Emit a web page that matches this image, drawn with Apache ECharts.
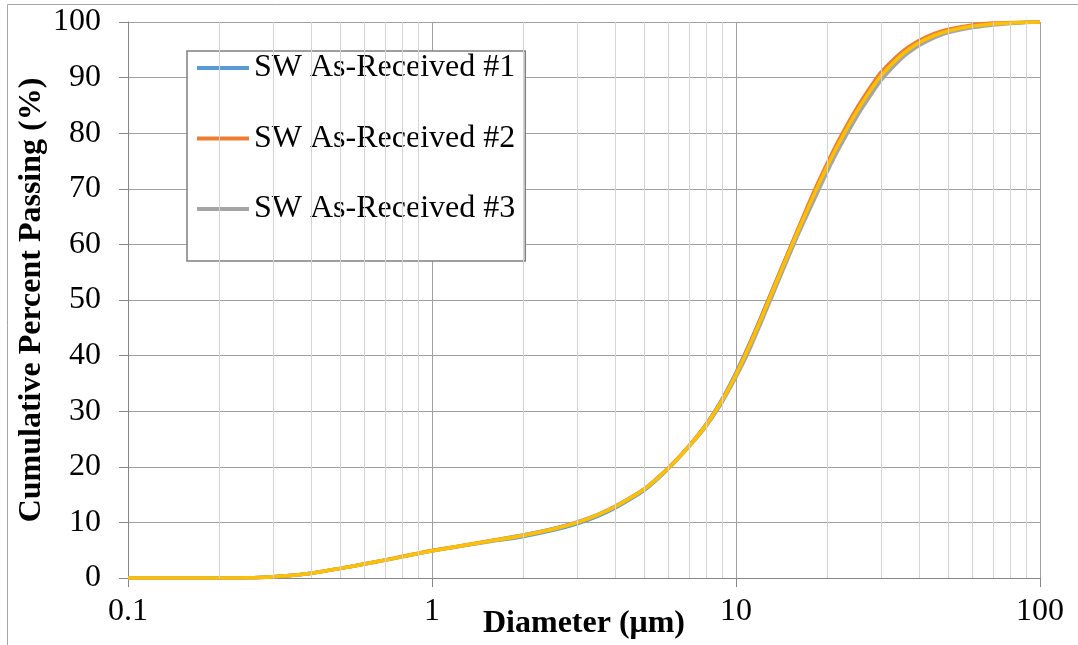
<!DOCTYPE html>
<html lang="en">
<head>
    <meta charset="UTF-8">
    <title>Particle Size Distribution</title>
    <script src="https://cdn.jsdelivr.net/npm/echarts@6/dist/echarts.min.js"></script>
    <style>
        html, body { margin: 0; padding: 0; background: #fff; }
        #chart { width: 1078px; height: 645px; }
    </style>
</head>
<body>
<div id="chart"></div>
<script>
    // particle diameter (um)
    var diam = [0.1, 0.15, 0.2, 0.25, 0.3, 0.35, 0.4, 0.5, 0.6, 0.7, 0.8, 0.9, 1, 1.2, 1.5, 2, 2.5, 3, 3.5, 4,
        5, 6, 7, 8, 9, 10, 11, 12, 13, 14, 15, 16, 18, 20, 22, 25, 28, 30, 35, 40, 45, 50, 60, 70, 80, 90, 100];

    // cumulative percent passing, per sample
    var run1 = [0, 0, 0, 0.04, 0.24, 0.51, 0.86, 1.73, 2.52, 3.22, 3.85, 4.41, 4.89, 5.58, 6.42, 7.48, 8.57, 9.75, 11.08, 12.6,
        15.82, 19.7, 23.7, 27.75, 32.15, 36.95, 41.8, 46.55, 51.1, 55.3, 59.15, 62.7, 68.95, 74.25, 78.7, 84.0, 88.1, 90.35, 94.0, 96.2,
        97.55, 98.4, 99.27, 99.64, 99.84, 99.94, 100];
    var run2 = [0, 0, 0, 0.04, 0.24, 0.51, 0.86, 1.73, 2.55, 3.26, 3.9, 4.46, 4.95, 5.68, 6.57, 7.72, 8.85, 10.03, 11.37, 12.88,
        16.08, 19.88, 23.78, 27.73, 32.03, 36.72, 41.7, 46.46, 51.02, 55.24, 59.14, 62.82, 69.37, 74.73, 79.2, 84.58, 88.71, 90.96, 94.55, 96.65,
        97.95, 98.7, 99.47, 99.8, 99.9, 99.96, 100];
    var run3 = [0, 0, 0, 0.04, 0.24, 0.51, 0.86, 1.73, 2.5, 3.18, 3.8, 4.37, 4.84, 5.6, 6.5, 7.75, 8.88, 10.06, 11.38, 12.87,
        16.06, 19.8, 23.6, 27.4, 31.6, 36.15, 40.7, 45.5, 50.05, 54.25, 58.15, 61.75, 67.8, 73.15, 77.6, 83.0, 87.15, 89.5, 93.4, 95.75,
        97.2, 98.1, 99.0, 99.45, 99.75, 99.9, 100];
    // average curve (drawn on top, not in legend)
    var runAvg = [0, 0, 0, 0.04, 0.24, 0.51, 0.86, 1.73, 2.52, 3.22, 3.85, 4.41, 4.89, 5.62, 6.5, 7.65, 8.77, 9.95, 11.29, 12.8,
        16.0, 19.8, 23.69, 27.63, 31.93, 36.6, 41.4, 46.16, 50.72, 54.94, 58.84, 62.42, 68.77, 74.13, 78.6, 83.98, 88.11, 90.36, 94.05, 96.25,
        97.58, 98.4, 99.27, 99.64, 99.84, 99.94, 100];

    var names = ['SW As-Received #1', 'SW As-Received #2', 'SW As-Received #3', 'Average'];
    var colors = ['#5B9BD5', '#ED7D31', '#A5A5A5', '#FFC000'];

    // minor log gridlines 2..9 per decade
    var minorGrid = [0.2, 0.3, 0.4, 0.5, 0.6, 0.7, 0.8, 0.9, 2, 3, 4, 5, 6, 7, 8, 9, 20, 30, 40, 50, 60, 70, 80, 90];

    function pairs(xs, ys) {
        var out = [];
        for (var i = 0; i < xs.length; i++) out.push([xs[i], ys[i]]);
        return out;
    }

    var font = 'Liberation Serif';
    var fsize = 32;
    var runs = [run1, run2, run3, runAvg];

    var series = [{
        // holder for the minor vertical gridlines
        name: 'grid',
        type: 'line',
        z: 1,
        silent: true,
        data: [[0.1, 0]],
        symbol: 'none',
        lineStyle: { opacity: 0 },
        markLine: {
            silent: true,
            symbol: 'none',
            label: { show: false },
            animation: false,
            lineStyle: { color: '#d4d4d4', width: 1, type: 'solid' },
            data: minorGrid.map(function (v) { return { xAxis: v }; })
        }
    }];
    for (var i = 0; i < runs.length; i++) {
        series.push({
            name: names[i],
            type: 'line',
            z: 3,
            data: pairs(diam, runs[i]),
            smooth: 0.3,
            showSymbol: false,
            symbol: 'none',
            color: colors[i],
            lineStyle: { color: colors[i], width: 3.5 }
        });
    }

    var option = {
        backgroundColor: '#fff',
        animation: false,
        graphic: [{
            type: 'rect',
            shape: { x: 7.5, y: 4.5, width: 1200, height: 800 },
            style: { fill: 'none', stroke: '#a6a6a6', lineWidth: 1 },
            silent: true
        }],
        grid: { left: 128, right: 38, top: 22, bottom: 67, outerBoundsMode: 'none' },
        legend: {
            data: names.slice(0, 3),
            orient: 'vertical',
            left: 187,
            top: 51,
            padding: [1, 10, 36, 10],
            itemGap: 38.5,
            itemWidth: 52,
            itemHeight: 4,
            icon: 'rect',
            backgroundColor: '#fff',
            borderColor: '#7f7f7f',
            borderWidth: 1.5,
            textStyle: { fontFamily: font, fontSize: fsize, color: '#000' }
        },
        xAxis: {
            type: 'log',
            logBase: 10,
            min: 0.1,
            max: 100,
            name: 'Diameter (\u03bcm)',
            nameLocation: 'middle',
            nameGap: 30,
            nameMoveOverlap: false,
            nameTextStyle: { fontFamily: font, fontSize: fsize, fontWeight: 'bold', color: '#000' },
            axisLine: { show: true, lineStyle: { color: '#868686', width: 1 } },
            axisTick: { show: true, length: 9, inside: false, lineStyle: { color: '#868686' } },
            axisLabel: { fontFamily: font, fontSize: fsize, color: '#000', margin: 18 },
            splitLine: { show: true, lineStyle: { color: '#a0a0a0', width: 1 } }
        },
        yAxis: {
            type: 'value',
            min: 0,
            max: 100,
            interval: 10,
            name: 'Cumulative Percent Passing (%)',
            nameLocation: 'middle',
            nameGap: 80,
            nameMoveOverlap: false,
            nameTextStyle: { fontFamily: font, fontSize: fsize, fontWeight: 'bold', color: '#000' },
            axisLine: { show: true, lineStyle: { color: '#868686', width: 1 } },
            axisTick: { show: true, length: 9, inside: false, lineStyle: { color: '#868686' } },
            axisLabel: { fontFamily: font, fontSize: fsize, color: '#000', margin: 27 },
            splitLine: { show: true, lineStyle: { color: '#a0a0a0', width: 1 } }
        },
        series: series
    };

    echarts.init(document.getElementById('chart')).setOption(option);
</script>
</body>
</html>
